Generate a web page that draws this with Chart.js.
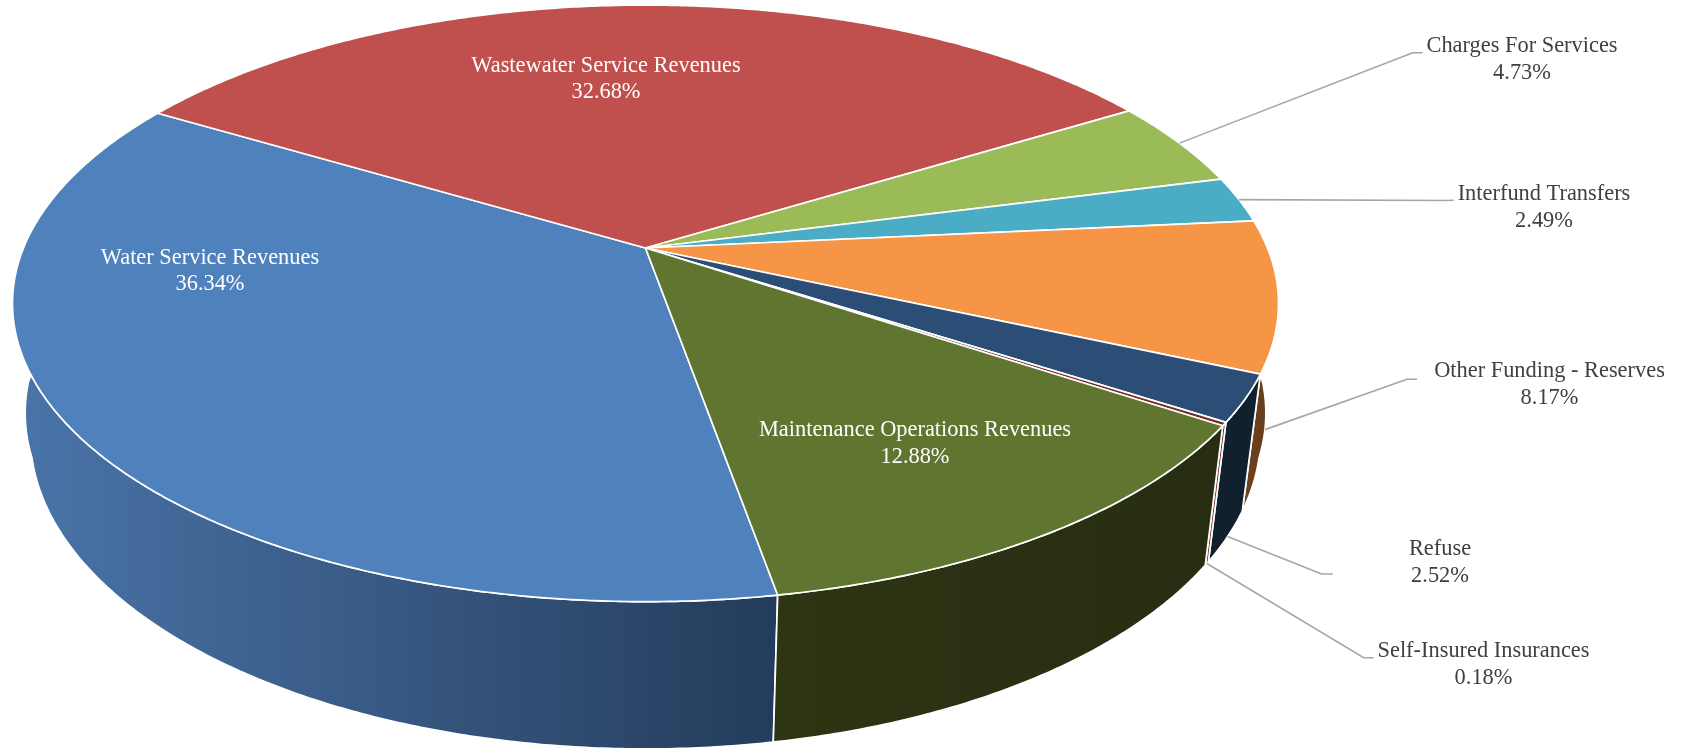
<!DOCTYPE html>
<html>
<head>
<meta charset="utf-8">
<title>Revenue Sources</title>
<script src="https://cdn.jsdelivr.net/npm/chart.js@4"></script>
<style>
  html, body { margin: 0; padding: 0; background: #fff; overflow: hidden; }
  canvas { display: block; }
</style>
</head>
<body>
<canvas id="revenueChart" width="1684" height="750"></canvas>
<script>
const categories = ['Water Service Revenues', 'Wastewater Service Revenues', 'Charges For Services', 'Interfund Transfers', 'Other Funding - Reserves', 'Refuse', 'Self-Insured Insurances', 'Maintenance Operations Revenues'];
const shares = [36.34, 32.68, 4.73, 2.49, 8.17, 2.52, 0.18, 12.88];
const topColors = ['#4f81bd', '#c0504d', '#9bbb59', '#4bacc6', '#f59545', '#2c4d75', '#772c2a', '#5f7530'];
const wallColorsLeft = ['#4a74a9', '#7a322f', '#62763a', '#2f6c7d', '#6e4420', '#10202f', '#772c2a', '#2e3513'];
const wallColorsRight = ['#243c5b', '#5a2523', '#4a5a2b', '#235361', '#643a16', '#10202f', '#772c2a', '#272d11'];

// label centre and leader line for each slice; leaders only on the small outer slices
const labelSpots = [
  { x: 210, y: 258, color: '#fff' },
  { x: 606, y: 66, color: '#fff' },
  { x: 1522, y: 46.5, color: '#404040', elbow: [1412.7, 52.7], end: [1422.6, 52.7], depth: 0 },
  { x: 1544, y: 194.5, color: '#404040', elbow: [1445, 200.5], end: [1453.7, 200.3], depth: 0 },
  { x: 1549.5, y: 371.5, color: '#404040', elbow: [1407, 379.3], end: [1417, 379.3], depth: 1 },
  { x: 1440, y: 549.5, color: '#404040', elbow: [1321.6, 574], end: [1332.8, 574], depth: 1 },
  { x: 1483.5, y: 651.5, color: '#404040', elbow: [1363.7, 657.7], end: [1373.7, 657.7], depth: 1 },
  { x: 915, y: 430.5, color: '#fff' }
];

// perspective view of the flat pie: near edge is bigger than the far edge
const view = { cx: 645.5, cy: 248, halfX: 622, halfY: 288, drop: 134, tilt: 0.1856, sink: 0.028 };

function project(angle, radius, depth) {
  const x = Math.cos(angle) * radius;
  const y = Math.sin(angle) * radius;
  // bottom rim pulls in less at the sides than at the front
  const pull = Math.max(0.3, Math.min(1, 0.3 + 2.8 * y));
  const w = 1 - view.tilt * y + view.sink * depth * pull;
  return [view.cx + view.halfX * x / w, view.cy + (view.halfY * y + view.drop * depth) / w];
}

function rimPoints(start, end, depth) {
  const pts = [];
  const steps = Math.max(2, Math.ceil((end - start) / 0.008));
  for (let i = 0; i <= steps; i++) {
    pts.push(project(start + (end - start) * i / steps, 1, depth));
  }
  return pts;
}

function tracePath(ctx, pts) {
  ctx.beginPath();
  pts.forEach(function (p, i) {
    if (i === 0) ctx.moveTo(p[0], p[1]);
    else ctx.lineTo(p[0], p[1]);
  });
  ctx.closePath();
}

const pie3d = {
  id: 'pie3d',
  // replaces the flat arc drawing, the arcs still supply the angles
  beforeDatasetsDraw(chart) {
    const ctx = chart.ctx;
    const arcs = chart.getDatasetMeta(0).data;
    ctx.save();
    ctx.lineJoin = 'round';
    ctx.strokeStyle = '#fff';
    ctx.lineWidth = 1.7;

    // side wall, far slices first
    const order = arcs.map(function (arc, i) { return i; }).sort(function (a, b) {
      return Math.sin((arcs[a].startAngle + arcs[a].endAngle) / 2) - Math.sin((arcs[b].startAngle + arcs[b].endAngle) / 2);
    });
    order.forEach(function (i) {
      const arc = arcs[i];
      const top = rimPoints(arc.startAngle, arc.endAngle, 0);
      const bottom = rimPoints(arc.startAngle, arc.endAngle, 1).reverse();
      const xs = top.concat(bottom).map(function (p) { return p[0]; });
      const shade = ctx.createLinearGradient(Math.min.apply(null, xs), 0, Math.max.apply(null, xs), 0);
      shade.addColorStop(0, wallColorsLeft[i]);
      shade.addColorStop(1, wallColorsRight[i]);
      tracePath(ctx, top.concat(bottom));
      ctx.fillStyle = shade;
      ctx.fill();
      ctx.stroke();
    });

    // top face
    arcs.forEach(function (arc, i) {
      const pts = [[view.cx, view.cy]].concat(rimPoints(arc.startAngle, arc.endAngle, 0));
      tracePath(ctx, pts);
      ctx.fillStyle = topColors[i];
      ctx.fill();
      ctx.stroke();
    });
    ctx.restore();
    return false;
  },
  afterDraw(chart) {
    const ctx = chart.ctx;
    const arcs = chart.getDatasetMeta(0).data;
    ctx.save();
    ctx.font = '22.4px "Liberation Serif"';
    ctx.textAlign = 'center';
    ctx.textBaseline = 'middle';
    arcs.forEach(function (arc, i) {
      const spot = labelSpots[i];
      if (spot.elbow) {
        const start = project((arc.startAngle + arc.endAngle) / 2, 1, spot.depth);
        ctx.beginPath();
        ctx.moveTo(start[0], start[1]);
        ctx.lineTo(spot.elbow[0], spot.elbow[1]);
        ctx.lineTo(spot.end[0], spot.end[1]);
        ctx.strokeStyle = '#a6a6a6';
        ctx.lineWidth = 1.6;
        ctx.stroke();
      }
      ctx.fillStyle = spot.color;
      ctx.fillText(categories[i], spot.x, spot.y);
      ctx.fillText(shares[i].toFixed(2) + '%', spot.x, spot.y + 26.3);
    });
    ctx.restore();
  }
};

new Chart(document.getElementById('revenueChart').getContext('2d'), {
  type: 'pie',
  data: {
    labels: categories,
    datasets: [{ data: shares, backgroundColor: topColors }]
  },
  options: {
    responsive: false,
    animation: false,
    rotation: 170,
    plugins: { legend: { display: false }, tooltip: { enabled: false } }
  },
  plugins: [pie3d]
});
</script>
</body>
</html>
